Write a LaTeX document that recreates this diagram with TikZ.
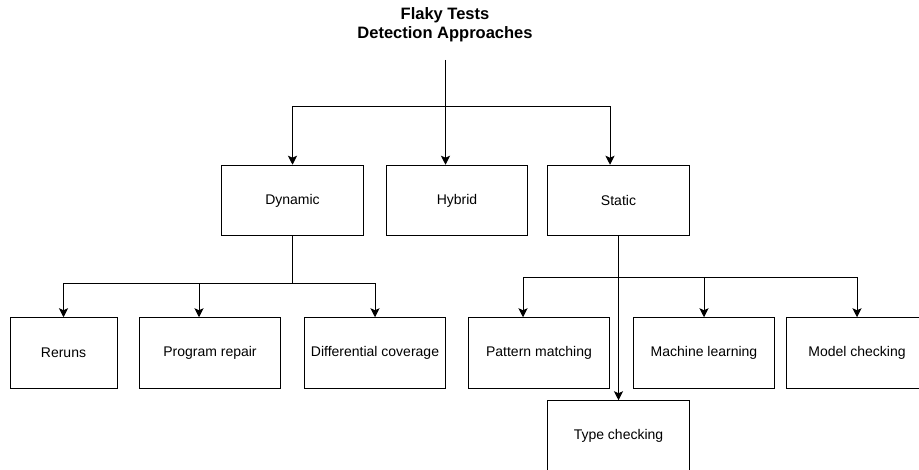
\documentclass[tikz,border=0pt]{standalone}
\usepackage{fontspec}
\setmainfont{Liberation Sans}
\usetikzlibrary{arrows.meta}

\begin{document}
\begin{tikzpicture}[x=1pt,y=1pt,yscale=-1,
    box/.style={draw, line width=1pt, minimum width=141.5pt, minimum height=70.5pt, inner sep=0pt, font=\fontsize{14}{16}\selectfont},
    arr/.style={-{Stealth[length=9pt,width=9pt,inset=2pt]}, line width=1pt}]
    \useasboundingbox (0,0) rectangle (919,470);

    % Title
    \node [font=\bfseries\fontsize{16.5}{19}\selectfont, align=center] (title) at (445,25) {Flaky Tests\\Detection Approaches};
    \coordinate (top) at (445.5,60);
    \coordinate (fork) at (445.5,106.5);

    % first level
    \node [box] (dynamic) at (292.5,200.5) {Dynamic};
    \node [box] (hybrid) at (457,200.5) {Hybrid};
    \node [box] (static) at (618.5,200.5) {Static};

    % dynamic approaches
    \node [box, minimum width=107pt] (reruns) at (63.5,353) {Reruns};
    \node [box] (repair) at (210,353) {Program repair};
    \node [box] (diffcov) at (375,353) {Differential coverage};

    % static approaches
    \node [box] (pattern) at (539,353) {Pattern matching};
    \node [box] (mlearn) at (704,353) {Machine learning};
    \node [box] (model) at (857,353) {Model checking};
    \node [box] (types) at (618.5,436) {Type checking};

    \coordinate (dynfork) at (292.5,283.5);
    \coordinate (statfork) at (618.5,277.5);

    % connectors
    \draw [arr] (top) -- (top |- hybrid.north);
    \draw [arr] (fork) -| (dynamic.north);
    \draw [arr] (fork) -| ([xshift=-8.5pt]static.north);

    \draw [line width=1pt] (dynamic.south) -- (dynfork);
    \draw [arr] (dynfork) -| (reruns.north);
    \draw [arr] (dynfork) -| ([xshift=-11pt]repair.north);
    \draw [arr] (dynfork) -| (diffcov.north);

    \draw [line width=1pt] (static.south) -- (statfork);
    \draw [arr] (statfork) -| ([xshift=-16pt]pattern.north);
    \draw [arr] (statfork) -| (mlearn.north);
    \draw [arr] (statfork) -| (model.north);
    \draw [arr] ([yshift=-5pt]statfork) -- (types.north);

\end{tikzpicture}
\end{document}
